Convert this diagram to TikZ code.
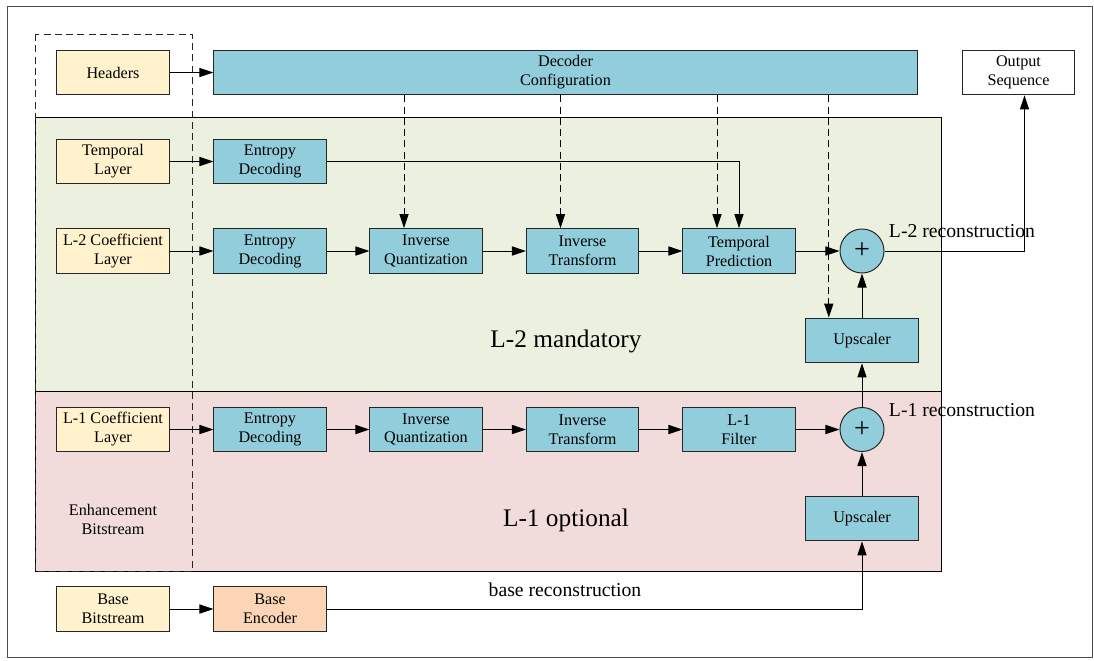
\documentclass[tikz,border=0pt]{standalone}
\usepackage{fontspec}
\setmainfont{Liberation Serif}
\usetikzlibrary{arrows.meta}
\definecolor{cream}{RGB}{255,242,204}
\definecolor{boxblue}{RGB}{146,205,220}
\definecolor{mandgreen}{RGB}{235,241,222}
\definecolor{optpink}{RGB}{242,220,219}
\definecolor{encorange}{RGB}{251,213,181}
\definecolor{edgegray}{RGB}{38,38,38}

\tikzset{
  blk/.style={draw=edgegray, line width=0.7pt, minimum width=2.8cm, minimum height=1.12cm,
    inner sep=0pt, align=center, font=\fontsize{11.5}{13.5}\selectfont},
  srcblk/.style={blk, fill=cream},
  procblk/.style={blk, fill=boxblue},
  sumnode/.style={circle, draw=edgegray, line width=0.7pt, fill=boxblue, minimum size=1.1cm,
    inner sep=0pt, font=\fontsize{20}{20}\selectfont},
  arr/.style={-{Triangle[length=10pt,width=6.5pt]}, line width=0.7pt},
  dasharr/.style={arr, dash pattern=on 5pt off 3pt},
  biglabel/.style={font=\fontsize{18}{20}\selectfont},
  midlabel/.style={font=\fontsize{14}{16}\selectfont},
}

\begin{document}
\begin{tikzpicture}[x=0.025cm, y=-0.025cm]
    \useasboundingbox (0,0) rectangle (1094,660);
    % Cadre
    \draw[line width=0.6pt, black!70] (7,6) rectangle (1092,657);

    % Zones L-2 / L-1
    \draw[line width=0.7pt, fill=mandgreen] (35,117) rectangle (941,391);
    \draw[line width=0.7pt, fill=optpink] (35,391) rectangle (941,571);
    \node[biglabel] (mandlbl) at (566,341) {L-2 mandatory};
    \node[biglabel] (optlbl) at (566,520) {L-1 optional};

    % Enhancement bitstream (pointillés)
    \draw[line width=0.7pt, edgegray, dash pattern=on 5pt off 3pt] (35,34) rectangle (192,571);
    \node[align=center, font=\fontsize{11.5}{13.5}\selectfont] (enhlbl) at (113,519) {Enhancement\\Bitstream};

    % Ligne du haut
    \node[srcblk] (hdr) at (113,72.5) {Headers};
    \node[procblk, minimum width=17.575cm] (cfg) at (565.5,72.5) {Decoder\\Configuration};
    \node[blk, fill=white] (outseq) at (1018.5,72.5) {Output\\Sequence};

    % Couche temporelle
    \node[srcblk] (tmpl) at (113,161.5) {Temporal\\Layer};
    \node[procblk] (ent0) at (270,161.5) {Entropy\\Decoding};

    % Couche L-2
    \node[srcblk] (l2c) at (113,251) {L-2 Coefficient\\Layer};
    \node[procblk] (ent2) at (270,251) {Entropy\\Decoding};
    \node[procblk] (iq2) at (426,251) {Inverse\\Quantization};
    \node[procblk] (it2) at (582.5,251) {Inverse\\Transform};
    \node[procblk] (tpred) at (739,251) {Temporal\\Prediction};
    \node[sumnode] (sum2) at (862,251) {+};
    \node[procblk] (up2) at (862,340.5) {Upscaler};
    \node[midlabel, anchor=west] (l2rec) at (884,231) {L-2 reconstruction};

    % Couche L-1
    \node[srcblk] (l1c) at (113,429.5) {L-1 Coefficient\\Layer};
    \node[procblk] (ent1) at (270,429.5) {Entropy\\Decoding};
    \node[procblk] (iq1) at (426,429.5) {Inverse\\Quantization};
    \node[procblk] (it1) at (582.5,429.5) {Inverse\\Transform};
    \node[procblk] (filt) at (739,429.5) {L-1\\Filter};
    \node[sumnode] (sum1) at (862,429.5) {+};
    \node[procblk] (up1) at (862,518.5) {Upscaler};
    \node[midlabel, anchor=west] (l1rec) at (884,410) {L-1 reconstruction};

    % Base
    \node[srcblk] (bbit) at (113,609) {Base\\Bitstream};
    \node[blk, fill=encorange] (benc) at (270,609) {Base\\Encoder};
    \node[midlabel] (baserec) at (565,590) {base reconstruction};

    % Flèches
    \draw[arr] (hdr) -- (cfg);
    \draw[arr] (tmpl) -- (ent0);
    \draw[arr] (ent0.east) -| (tpred.north);
    \draw[arr] (l2c) -- (ent2);
    \draw[arr] (ent2) -- (iq2);
    \draw[arr] (iq2) -- (it2);
    \draw[arr] (it2) -- (tpred);
    \draw[arr] (tpred) -- (sum2);
    \draw[arr] (up2) -- (sum2);
    \draw[arr] (sum2.east) -| ([xshift=0.15cm]outseq.south);
    \draw[arr] (l1c) -- (ent1);
    \draw[arr] (ent1) -- (iq1);
    \draw[arr] (iq1) -- (it1);
    \draw[arr] (it1) -- (filt);
    \draw[arr] (filt) -- (sum1);
    \draw[arr] (sum1) -- (up2);
    \draw[arr] (up1) -- (sum1);
    \draw[arr] (bbit) -- (benc);
    \draw[arr] (benc.east) -| (up1.south);

    % Configuration (pointillés)
    \draw[dasharr] ([xshift=-0.55cm]iq2.north |- cfg.south) -- ([xshift=-0.55cm]iq2.north);
    \draw[dasharr] ([xshift=-0.55cm]it2.north |- cfg.south) -- ([xshift=-0.55cm]it2.north);
    \draw[dasharr] ([xshift=-0.55cm]tpred.north |- cfg.south) -- ([xshift=-0.55cm]tpred.north);
    \draw[dasharr] ([xshift=-0.83cm]up2.north |- cfg.south) -- ([xshift=-0.83cm]up2.north);
\end{tikzpicture}
\end{document}
